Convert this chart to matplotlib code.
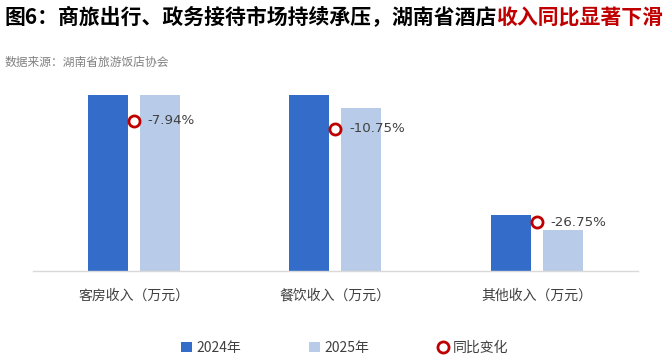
import matplotlib
matplotlib.use("Agg")
import matplotlib.pyplot as plt
from matplotlib.lines import Line2D
from matplotlib.patches import Patch
import numpy as np

plt.rcParams['font.family'] = ['Noto Sans CJK SC', 'DejaVu Sans']

categories = ['客房收入（万元）', '餐饮收入（万元）', '其他收入（万元）']
values_2024 = [2300, 1826, 560]
values_2025 = [2117, 1630, 410]
yoy_pct = [-7.94, -10.75, -26.75]
yoy_anchor = [1500, 1420, 490]
series_names = ['2024年', '2025年', '同比变化']

title_black = '图6：商旅出行、政务接待市场持续承压，湖南省酒店'
title_red = '收入同比显著下滑'
subtitle = '数据来源：湖南省旅游饭店协会'

c24 = '#336CC9'
c25 = '#B8CCE9'
cred = '#C00000'
ctext = '#404040'

fig = plt.figure(figsize=(6.65, 3.61), dpi=100)
ax = fig.add_axes([33/665, 90/361, 604.5/665, 176/361])

x = np.arange(len(categories))
w = 0.2
off = 0.129
ax.bar(x - off, values_2024, width=w, color=c24, zorder=2)
ax.bar(x + off, values_2025, width=w, color=c25, zorder=2)
ax.plot(x, yoy_anchor, linestyle='none', marker='o', markersize=8,
        markerfacecolor='white', markeredgecolor=cred, markeredgewidth=2, zorder=4)
for xi, ya, p in zip(x, yoy_anchor, yoy_pct):
    ax.annotate(f'{p:.2f}%', (xi, ya), xytext=(10, 0), textcoords='offset points',
                ha='left', va='center', fontsize=9.6, color=ctext, zorder=5,
                family=['DejaVu Sans'])

ax.set_xlim(-0.5, 2.5)
ax.set_ylim(0, 1760)
ax.set_yticks([])
ax.set_xticks(x)
ax.set_xticklabels(categories, fontsize=10, color=ctext)
ax.tick_params(axis='x', length=0, pad=13)
for s in ['top', 'right', 'left']:
    ax.spines[s].set_visible(False)
ax.spines['bottom'].set_color('#D9D9D9')
ax.spines['bottom'].set_linewidth(1)

# Title
t1 = fig.text(5/665, 1 - 18/361, title_black, fontsize=15, fontweight='bold',
              color='black', ha='left', va='center')
fig.canvas.draw()
r = fig.canvas.get_renderer()
bb = t1.get_window_extent(renderer=r)
fig.text((bb.x1 - 1) / fig.bbox.width, 1 - 18/361, title_red, fontsize=15, fontweight='bold',
         color=cred, ha='left', va='center')
fig.text(5/665, 1 - 62/361, subtitle, fontsize=8.5, color='#808080', ha='left', va='center')

handles = [Patch(facecolor=c24, edgecolor='none'),
           Patch(facecolor=c25, edgecolor='none'),
           Line2D([], [], linestyle='none', marker='o', markersize=8,
                  markerfacecolor='white', markeredgecolor=cred, markeredgewidth=2)]
leg = fig.legend(handles, series_names, loc='center', bbox_to_anchor=(0.518, 1 - 348/361),
                 ncol=3, frameon=False, fontsize=10, handlelength=0.8, handleheight=0.8,
                 handletextpad=0.3, columnspacing=4.9)
for t in leg.get_texts():
    t.set_color(ctext)

fig.savefig('out.png', dpi=100)
